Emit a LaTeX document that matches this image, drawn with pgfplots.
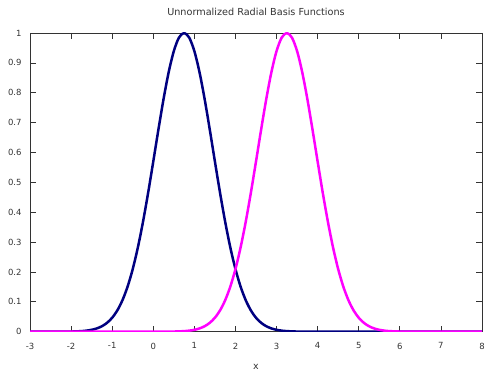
\documentclass[border=0pt]{standalone}
\usepackage{pgfplots}
\pgfplotsset{compat=1.18}
\usepackage{fontspec}
\setmainfont{DejaVu Sans}
\definecolor{c1}{HTML}{000080}
\definecolor{c2}{HTML}{FF00FF}
\begin{document}
\begin{tikzpicture}
\useasboundingbox (-30bp,-39.3bp) rectangle (455bp,331.7bp);
\begin{axis}[
  scale only axis,
  width=452bp, height=298.7bp,
  at={(0,0)}, anchor=south west,
  xmin=-3, xmax=8, ymin=0, ymax=1,
  xtick={-3,-2,-1,0,1,2,3,4,5,6,7,8},
  ytick={0,0.1,0.2,0.3,0.4,0.5,0.6,0.7,0.8,0.9,1},
  yticklabels={0,0.1,0.2,0.3,0.4,0.5,0.6,0.7,0.8,0.9,1},
  tick align=inside,
  major tick length=6bp,
  tick style={black!80, line width=0.7bp},
  axis line style={black!80, line width=0.9bp},
  /pgf/number format/assume math mode=true,
  tick label style={font=\fontsize{8.5}{9}\selectfont, text=black!80},
  xticklabel style={yshift=-7.5bp},
  yticklabel style={xshift=-5bp},
  title={Unnormalized Radial Basis Functions},
  title style={font=\fontsize{9.7}{11}\selectfont, text=black!80, yshift=8bp},
  xlabel={x},
  xlabel style={font=\fontsize{9.5}{11}\selectfont, text=black!80, yshift=-8bp},
]
\addplot[c1, line width=2.5bp, smooth] coordinates {
(-3,0) (-2.5,0.000026) (-2.25,0.00012) (-2,0.00052) (-1.75,0.00193) (-1.625,0.00355)
(-1.5,0.00633) (-1.375,0.01094) (-1.25,0.01832) (-1.125,0.02973) (-1,0.04677)
(-0.875,0.07131) (-0.75,0.10540) (-0.625,0.15097) (-0.5,0.20961) (-0.375,0.28206)
(-0.25,0.36788) (-0.125,0.46504) (0,0.56978) (0.125,0.67663) (0.25,0.77880)
(0.375,0.86882) (0.5,0.93941) (0.625,0.98450) (0.75,1) (0.875,0.98450)
(1,0.93941) (1.125,0.86882) (1.25,0.77880) (1.375,0.67663) (1.5,0.56978)
(1.625,0.46504) (1.75,0.36788) (1.875,0.28206) (2,0.20961) (2.125,0.15097)
(2.25,0.10540) (2.375,0.07131) (2.5,0.04677) (2.625,0.02973) (2.75,0.01832)
(2.875,0.01094) (3,0.00633) (3.125,0.00355) (3.25,0.00193) (3.5,0.00052)
(3.75,0.00012) (4,0.000026) (4.5,0) (6,0) (8,0)
};
\addplot[c2, line width=2.5bp, smooth] coordinates {
(-3,0) (-1.5,0) (0,0.000026) (0.25,0.00012) (0.5,0.00052) (0.75,0.00193) (0.875,0.00355)
(1,0.00633) (1.125,0.01094) (1.25,0.01832) (1.375,0.02973) (1.5,0.04677)
(1.625,0.07131) (1.75,0.10540) (1.875,0.15097) (2,0.20961) (2.125,0.28206)
(2.25,0.36788) (2.375,0.46504) (2.5,0.56978) (2.625,0.67663) (2.75,0.77880)
(2.875,0.86882) (3,0.93941) (3.125,0.98450) (3.25,1) (3.375,0.98450)
(3.5,0.93941) (3.625,0.86882) (3.75,0.77880) (3.875,0.67663) (4,0.56978)
(4.125,0.46504) (4.25,0.36788) (4.375,0.28206) (4.5,0.20961) (4.625,0.15097)
(4.75,0.10540) (4.875,0.07131) (5,0.04677) (5.125,0.02973) (5.25,0.01832)
(5.375,0.01094) (5.5,0.00633) (5.625,0.00355) (5.75,0.00193) (6,0.00052)
(6.25,0.00012) (6.5,0.000026) (7,0) (8,0)
};
\end{axis}
\end{tikzpicture}
\end{document}
